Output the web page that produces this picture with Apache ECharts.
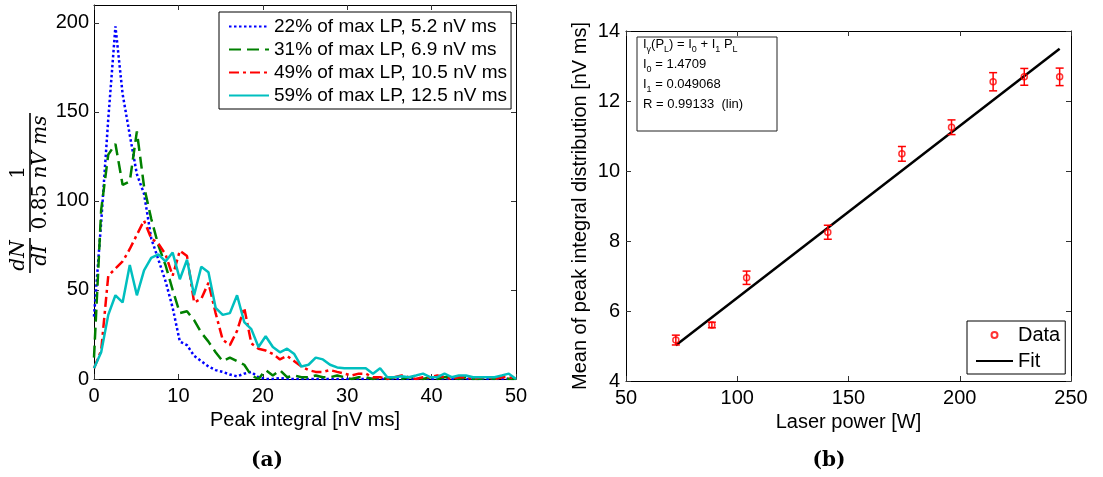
<!DOCTYPE html>
<html>
<head>
<meta charset="utf-8">
<script src="https://cdn.jsdelivr.net/npm/echarts/dist/echarts.min.js"></script>
<style>
html,body{margin:0;padding:0;background:#fff;}
#chart{width:1103px;height:477px;}
</style>
</head>
<body>
<div id="chart"></div>
<script>
// ---- Panel (a): peak integral histograms ----
const peakIntegralBins = [
  0, 0.85, 1.69, 2.54, 3.39, 4.24, 5.08, 5.93, 6.78, 7.63,
  8.47, 9.32, 10.17, 11.02, 11.86, 12.71, 13.56, 14.41, 15.25, 16.10,
  16.95, 17.80, 18.64, 19.49, 20.34, 21.19, 22.03, 22.88, 23.73, 24.58,
  25.42, 26.27, 27.12, 27.97, 28.81, 29.66, 30.51, 31.36, 32.20, 33.05,
  33.90, 34.75, 35.59, 36.44, 37.29, 38.14, 38.98, 39.83, 40.68, 41.53,
  42.37, 43.22, 44.07, 44.92, 45.76, 46.61, 47.46, 48.31, 49.15, 50.00
];
const lp22 = [
  35, 88, 146, 198, 160, 137, 115, 104, 79, 67,
  55, 40, 21, 19, 13, 10, 7, 5, 4, 2.5,
  1.5, 3, 4, 1, 0, 0, 0.5, 0, 0, 0,
  0, 0, 0, 0, 0, 0, 0, 0, 0, 0,
  0, 0, 0, 0, 0, 0, 0, 0, 0, 0,
  0, 0, 0, 0, 0, 0, 0, 0, 0, 0
];
const lp31 = [
  12, 95, 126, 132, 109, 111, 139, 108, 90, 75,
  64, 50, 37, 38, 33, 26, 21, 15, 10, 12,
  10, 8, 2, 0, 5, 2, 5, 1, 2, 1,
  1, 2, 1, 1, 2, 1, 0, 1, 1, 0,
  1, 0, 1, 0, 1, 1, 0, 1, 0, 1,
  1, 0, 1, 0, 0, 1, 0, 1, 0, 0
];
const lp49 = [
  6, 16, 58, 62, 66, 73, 81, 89, 79, 76,
  70, 58, 72, 69, 43, 45, 54, 37, 22, 19,
  27, 40, 20, 17, 16, 14, 11, 13, 10, 7,
  5, 4, 4, 5, 4, 3, 2, 3, 3, 1,
  1, 0, 1, 2, 1, 0, 1, 1, 2, 1,
  0, 1, 1, 0, 1, 1, 0, 1, 1, 0
];
const lp59 = [
  6, 15, 36, 47, 43, 64, 47, 61, 68, 70,
  66, 71, 56, 67, 47, 63, 60, 40, 36, 37,
  47, 32, 28, 18, 24, 18, 15, 17, 14, 7,
  8, 12, 11, 8, 6.5, 6, 6, 6, 6, 3,
  6, 1, 1, 1.5, 1, 2, 3, 1, 1, 3,
  1, 2, 2, 1, 1, 1, 1, 2, 3, 0
];
const histNames = [
  '22% of max LP, 5.2 nV ms',
  '31% of max LP, 6.9 nV ms',
  '49% of max LP, 10.5 nV ms',
  '59% of max LP, 12.5 nV ms'
];
const histXTicks = [0, 10, 20, 30, 40, 50];
const histYTicks = [0, 50, 100, 150, 200];

// ---- Panel (b): mean peak integral vs laser power ----
const laserPower = [72.4, 88.6, 104.2, 140.7, 174.0, 196.3, 215.0, 229.0, 244.9];
const meanIntegral = [5.17, 5.60, 6.95, 8.25, 10.49, 11.25, 12.55, 12.69, 12.69];
const meanError = [0.14, 0.08, 0.19, 0.20, 0.21, 0.21, 0.26, 0.24, 0.25];
const fitPower = [72.4, 244.9];
const fitIntegral = [5.02, 13.49];
const powerTicks = [50, 100, 150, 200, 250];
const meanTicks = [4, 6, 8, 10, 12, 14];

const FONT = '"Liberation Sans", Arial, Helvetica, sans-serif';
const chart = echarts.init(document.getElementById('chart'), null, {renderer: 'canvas'});

function pairs(xs, ys) { return xs.map((x, i) => [x, ys[i]]); }

function axisBase(extra) {
  return Object.assign({
    type: 'value',
    axisLine: {show: true, onZero: false, lineStyle: {color: '#000', width: 1}},
    axisTick: {show: true, inside: true, length: 5, lineStyle: {color: '#333', width: 1}},
    splitLine: {show: false},
    axisLabel: {color: '#000', fontSize: 20, fontFamily: FONT}
  }, extra);
}

const lineStyles = [
  {color: '#0000ff', width: 2.5, type: [2.5, 2.5]},
  {color: '#008000', width: 2.5, type: [12, 6]},
  {color: '#ff0000', width: 2.5, type: [10, 4, 3, 4]},
  {color: '#00bfbf', width: 2.5, type: 'solid'}
];
const histData = [lp22, lp31, lp49, lp59];

const histSeries = histData.map((vals, k) => ({
  name: histNames[k],
  type: 'line',
  xAxisIndex: 0, yAxisIndex: 0,
  data: pairs(peakIntegralBins, vals),
  symbol: 'none', showSymbol: false,
  lineStyle: lineStyles[k],
  itemStyle: {color: lineStyles[k].color},
  z: 2 + k
}));

const errData = laserPower.map((p, i) => [p, meanIntegral[i] - meanError[i], meanIntegral[i] + meanError[i]]);

const option = {
  animation: false,
  backgroundColor: '#fff',
  grid: [
    {left: 94, right: 587, top: 5, bottom: 98, containLabel: false},
    {left: 626, right: 32, top: 31, bottom: 96, containLabel: false}
  ],
  xAxis: [
    axisBase({gridIndex: 0, position: 'bottom', min: 0, max: 50, interval: 10,
      axisLabel: {color: '#000', fontSize: 20, fontFamily: FONT, margin: 7, customValues: histXTicks},
      axisTick: {show: true, inside: true, length: 5, lineStyle: {color: '#333'}, customValues: histXTicks},
      name: 'Peak integral [nV ms]', nameLocation: 'middle', nameGap: 24,
      nameTextStyle: {color: '#000', fontSize: 20, fontFamily: FONT}}),
    axisBase({gridIndex: 0, position: 'top', min: 0, max: 50, interval: 10,
      axisLabel: {show: false},
      axisTick: {show: true, inside: true, length: 5, lineStyle: {color: '#333'}, customValues: histXTicks}}),
    axisBase({gridIndex: 1, position: 'bottom', min: 50, max: 250, interval: 50,
      axisLabel: {color: '#000', fontSize: 20, fontFamily: FONT, margin: 7},
      name: 'Laser power [W]', nameLocation: 'middle', nameGap: 24,
      nameTextStyle: {color: '#000', fontSize: 20, fontFamily: FONT}}),
    axisBase({gridIndex: 1, position: 'top', min: 50, max: 250, interval: 50,
      axisLabel: {show: false}})
  ],
  yAxis: [
    axisBase({gridIndex: 0, position: 'left', min: 0, max: 210, interval: 50,
      axisLabel: {color: '#000', fontSize: 20, fontFamily: FONT, margin: 5, customValues: histYTicks},
      axisTick: {show: true, inside: true, length: 5, lineStyle: {color: '#333'}, customValues: histYTicks}}),
    axisBase({gridIndex: 0, position: 'right', min: 0, max: 210, interval: 50,
      axisLabel: {show: false},
      axisTick: {show: true, inside: true, length: 5, lineStyle: {color: '#333'}, customValues: histYTicks}}),
    axisBase({gridIndex: 1, position: 'left', min: 4, max: 14, interval: 2,
      axisLabel: {color: '#000', fontSize: 20, fontFamily: FONT, margin: 6},
      name: 'Mean of peak integral distribution [nV ms]', nameLocation: 'middle', nameGap: 36,
      nameTextStyle: {color: '#000', fontSize: 20, fontFamily: FONT}}),
    axisBase({gridIndex: 1, position: 'right', min: 4, max: 14, interval: 2,
      axisLabel: {show: false}})
  ],
  legend: [
    {
      data: histNames,
      orient: 'vertical',
      left: 219, top: 12,
      itemWidth: 40, itemHeight: 8, itemGap: 4,
      padding: [5, 4, 4, 9],
      borderColor: '#000', borderWidth: 1, borderRadius: 0,
      backgroundColor: '#fff',
      itemStyle: {opacity: 0},
      textStyle: {color: '#000', fontSize: 19, lineHeight: 19, fontFamily: FONT},
      selectedMode: false
    },
    {
      data: [{name: 'Data'}, {name: 'Fit', itemStyle: {opacity: 0}}],
      orient: 'vertical',
      left: 967, top: 321,
      itemWidth: 37, itemHeight: 6, itemGap: 6,
      padding: [4, 5, 3, 8],
      borderColor: '#000', borderWidth: 1, borderRadius: 0,
      backgroundColor: '#fff',
      textStyle: {color: '#000', fontSize: 20, lineHeight: 20, fontFamily: FONT},
      selectedMode: false
    }
  ],
  series: histSeries.concat([
    {
      name: 'Fit',
      type: 'line',
      xAxisIndex: 2, yAxisIndex: 2,
      data: pairs(fitPower, fitIntegral),
      symbol: 'none', showSymbol: false,
      lineStyle: {color: '#000', width: 2.5},
      itemStyle: {color: '#000'},
      z: 2
    },
    {
      name: 'ErrorBars',
      type: 'custom',
      xAxisIndex: 2, yAxisIndex: 2,
      data: errData,
      z: 3,
      renderItem: function (params, api) {
        const x = api.value(0);
        const lo = api.coord([x, api.value(1)]);
        const hi = api.coord([x, api.value(2)]);
        const hw = 4;
        const st = {stroke: '#ff0000', lineWidth: 1.5};
        return {
          type: 'group',
          children: [
            {type: 'line', shape: {x1: lo[0], y1: lo[1], x2: hi[0], y2: hi[1]}, style: st},
            {type: 'line', shape: {x1: lo[0] - hw, y1: lo[1], x2: lo[0] + hw, y2: lo[1]}, style: st},
            {type: 'line', shape: {x1: hi[0] - hw, y1: hi[1], x2: hi[0] + hw, y2: hi[1]}, style: st}
          ]
        };
      }
    },
    {
      name: 'Data',
      type: 'scatter',
      xAxisIndex: 2, yAxisIndex: 2,
      data: pairs(laserPower, meanIntegral),
      symbol: 'circle', symbolSize: 6,
      itemStyle: {color: 'rgba(255,255,255,0)', borderColor: '#ff0000', borderWidth: 1.5},
      z: 4
    }
  ]),
  graphic: [
    {
      type: 'group', x: 30, y: 273, rotation: Math.PI / 2,
      children: [
        {type: 'line', shape: {x1: 0, y1: 0, x2: 35, y2: 0}, style: {stroke: '#000', lineWidth: 1.6}},
        {type: 'text', x: 17.5, y: -1, style: {text: 'dN', font: 'italic 20px "DejaVu Serif"', fill: '#000', align: 'center', verticalAlign: 'bottom'}},
        {type: 'text', x: 17.5, y: 1, style: {text: 'dI', font: 'italic 20px "DejaVu Serif"', fill: '#000', align: 'center', verticalAlign: 'top'}},
        {type: 'line', shape: {x1: 41, y1: 0, x2: 160, y2: 0}, style: {stroke: '#000', lineWidth: 1.6}},
        {type: 'text', x: 100.5, y: -1, style: {text: '1', font: '20px "DejaVu Serif"', fill: '#000', align: 'center', verticalAlign: 'bottom'}},
        {type: 'text', x: 100.5, y: 1, style: {
          text: '{a|0.85 }{b|nV ms}', align: 'center', verticalAlign: 'top',
          rich: {
            a: {font: '20px "DejaVu Serif"', fill: '#000'},
            b: {font: 'italic 20px "DejaVu Serif"', fill: '#000'}
          }
        }}
      ]
    },
    {
      type: 'rect', shape: {x: 637, y: 37, width: 140, height: 94},
      style: {fill: '#fff', stroke: '#222', lineWidth: 1}, z: 10
    },
    {
      type: 'text', x: 643, y: 34, z: 11,
      style: {
        text: '{m|I}{s|γ}{m|(P}{s|L}{m|) = I}{s|0}{m| + I}{s|1}{m| P}{s|L}\n' +
              '{m|I}{s|0}{m| = 1.4709}\n' +
              '{m|I}{s|1}{m| = 0.049068}\n' +
              '{m|R = 0.99133  (lin)}',
        rich: {
          m: {fontSize: 13, lineHeight: 20, fontFamily: FONT, fill: '#000'},
          s: {fontSize: 9, lineHeight: 12, fontFamily: FONT, fill: '#000', verticalAlign: 'bottom'}
        }
      }
    },
    {
      type: 'text', x: 267, y: 461,
      style: {text: '(a)', font: 'bold 20px "DejaVu Serif"', fill: '#000', align: 'center', verticalAlign: 'middle'}
    },
    {
      type: 'text', x: 829, y: 461,
      style: {text: '(b)', font: 'bold 20px "DejaVu Serif"', fill: '#000', align: 'center', verticalAlign: 'middle'}
    }
  ]
};
chart.setOption(option);
</script>
</body>
</html>
